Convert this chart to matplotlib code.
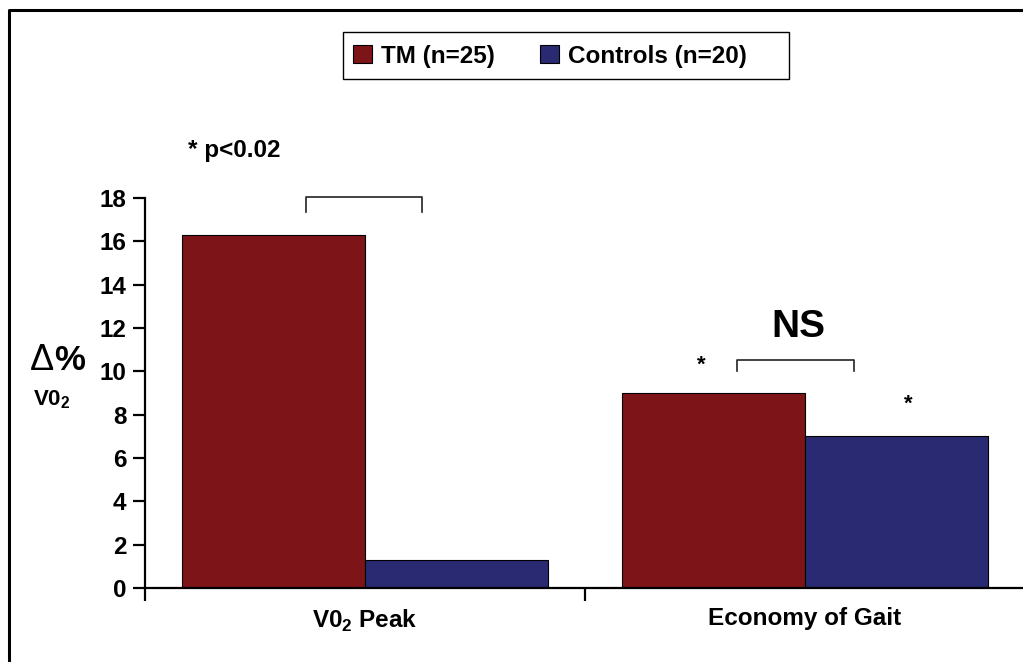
import numpy as np
import matplotlib
matplotlib.use("Agg")
import matplotlib.pyplot as plt
from matplotlib.patches import Patch
from matplotlib.lines import Line2D

plt.rcParams['font.family'] = ['Liberation Sans', 'DejaVu Sans']
plt.rcParams['mathtext.fontset'] = 'custom'
plt.rcParams['mathtext.rm'] = 'Liberation Sans'
plt.rcParams['mathtext.bf'] = 'Liberation Sans:bold'

# data
categories = [r"V0$_{\mathbf{2}}$ Peak", "Economy of Gait"]
series = ["TM (n=25)", "Controls (n=20)"]
tm = [16.3, 9.0]
controls = [1.3, 7.0]
colors = ["#7D1518", "#2A2A72"]
y_ticks = [0, 2, 4, 6, 8, 10, 12, 14, 16, 18]

fig = plt.figure(figsize=(10.23, 6.62), dpi=100)
W, H = 1023, 662
ax = fig.add_axes([145 / W, 1 - 588 / H, (1025 - 145) / W, (588 - 198) / H])

x = np.arange(len(categories))
w = 0.416
ax.bar(x - w / 2, tm, w, color=colors[0], edgecolor="black", linewidth=0.8, label=series[0])
ax.bar(x + w / 2, controls, w, color=colors[1], edgecolor="black", linewidth=0.8, label=series[1])

ax.set_xlim(-0.5, 1.5)
ax.set_ylim(0, 18)
ax.set_yticks(y_ticks)
ax.set_yticklabels([str(t) for t in y_ticks], fontsize=17.5, fontweight="bold")
ax.tick_params(axis="y", length=8.5, width=1.6, pad=5)

# category boundary ticks and label positions
ax.set_xticks([-0.5, 0.5, 1.5])
ax.set_xticklabels([])
ax.set_xticks(x, minor=True)
ax.set_xticklabels(categories, minor=True, fontsize=17.5, fontweight="bold")
ax.tick_params(axis="x", which="major", length=9, width=1.6)
ax.tick_params(axis="x", which="minor", length=0, pad=14)

for s in ["top", "right"]:
    ax.spines[s].set_visible(False)
for s in ["left", "bottom"]:
    ax.spines[s].set_linewidth(1.6)

# significance brackets
ax.plot([-0.134, -0.134, 0.13, 0.13], [17.35, 18.04, 18.04, 17.35], color="#222222", lw=1.2, clip_on=False)
ax.plot([0.845, 0.845, 1.111, 1.111], [10.01, 10.52, 10.52, 10.01], color="#222222", lw=1.2, clip_on=False)
ax.text(0.984, 12.04, "NS", fontsize=28, fontweight="bold", ha="center", va="center")
ax.text(0.764, 10.3, "*", fontsize=16, fontweight="bold", ha="center", va="center")
ax.text(1.234, 8.5, "*", fontsize=16, fontweight="bold", ha="center", va="center")
ax.text(-0.402, 20.2, "* p<0.02", fontsize=17.5, fontweight="bold", ha="left", va="center", clip_on=False)

# y label
fig.text(42 / W, 1 - 360 / H, "Δ", fontsize=26, ha="center", va="center")
fig.text(70 / W, 1 - 360 / H, "%", fontsize=25, fontweight="bold", ha="center", va="center")
fig.text(52 / W, 1 - 400 / H, r"V0$_{\mathbf{2}}$", fontsize=16, fontweight="bold", ha="center", va="center")

# legend with its own frame
fig.add_artist(plt.Rectangle((343 / W, 1 - 79 / H), (789 - 343) / W, (79 - 32) / H,
                             transform=fig.transFigure, fill=False, edgecolor="black", lw=1.0))
handles = [Patch(facecolor=c, edgecolor="black", lw=0.8) for c in colors]
fig.legend(handles, series, loc="center left", bbox_to_anchor=(348 / W, 1 - 56 / H), ncol=2,
           frameon=False, prop={"size": 17.5, "weight": "bold"}, handlelength=0.8, handleheight=0.8,
           handletextpad=0.35, columnspacing=1.85, borderpad=0.2, borderaxespad=0)

# outer frame (left and top only)
fig.add_artist(Line2D([9 / W, 9 / W, 1.01], [-0.01, 1 - 10 / H, 1 - 10 / H],
                      transform=fig.transFigure, color="black", lw=2.2))

fig.savefig("out.png", dpi=100)
